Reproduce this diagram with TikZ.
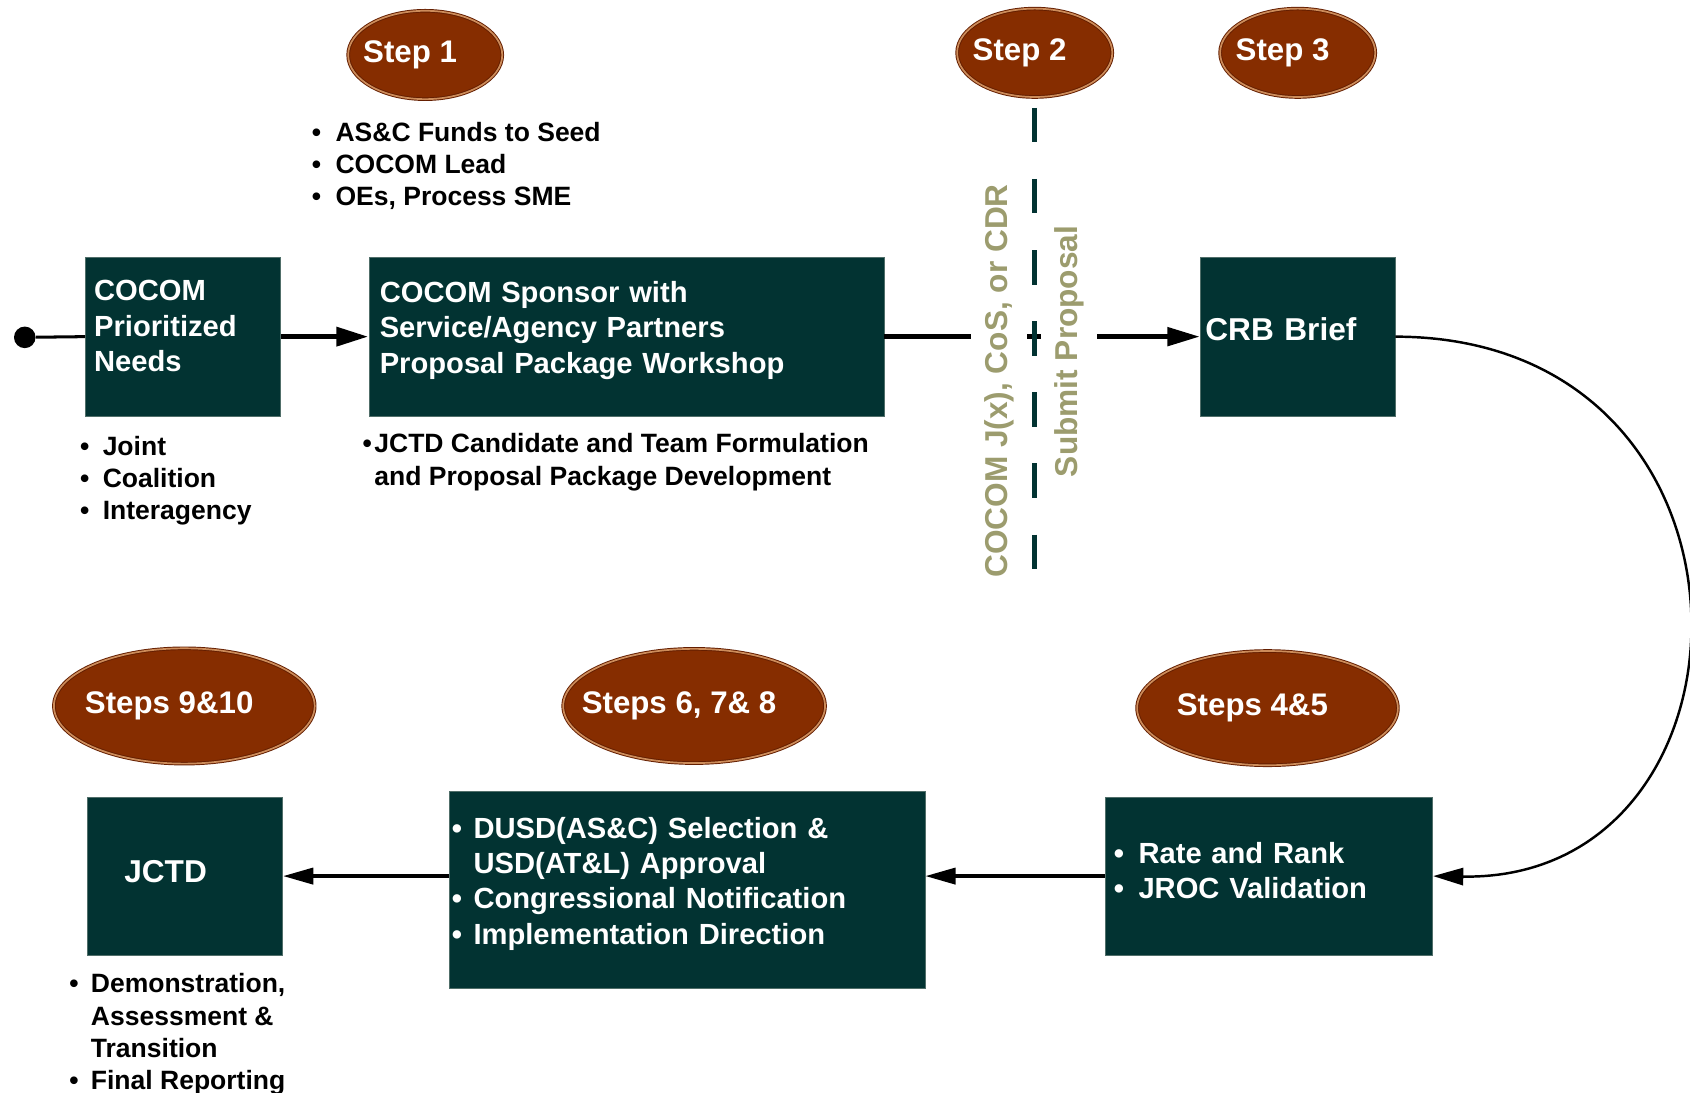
\documentclass[tikz,border=0pt]{standalone}
\usepackage{fontspec}
\setmainfont{Liberation Sans}
\usetikzlibrary{shapes}
\usetikzlibrary{positioning}
\usetikzlibrary{arrows.meta}
\definecolor{stepfill}{RGB}{134,45,0}
\definecolor{steprim}{RGB}{205,140,90}
\definecolor{stepedge}{RGB}{100,30,0}
\definecolor{boxfill}{RGB}{2,51,50}
\definecolor{boxedge}{RGB}{80,110,105}
\definecolor{olivegray}{RGB}{156,156,110}
\newcommand{\itm}[1][0.4cm]{\makebox[#1][l]{\textbullet}}
\tikzset{
    stepnode/.style = {ellipse, draw=stepedge, line width=0.5pt, double=steprim, double distance=0.9pt, fill=stepfill, inner sep=0pt, text=white, font=\fontsize{16.5}{20}\selectfont\bfseries, execute at begin node={\hspace*{-0.56cm}}},
    boxnode/.style = {rectangle, draw=boxedge, line width=0.4pt, fill=boxfill, inner sep=0pt, text=white, align=left, anchor=north west, font=\fontsize{15.4}{18.7}\selectfont\bfseries},
    bignode/.style = {boxnode, font=\fontsize{16.7}{20}\selectfont\bfseries},
    notenode/.style = {inner sep=0pt, align=left, anchor=north west, font=\fontsize{14}{17}\selectfont\bfseries},
    sidenode/.style = {rotate=90, fill=white, inner xsep=0pt, inner ysep=0.25cm, text=olivegray, font=\fontsize{16.7}{20}\selectfont\bfseries},
    edget/.style = {line width=1.6pt},
    edgek/.style = {-{Triangle[length=0.6cm,width=0.34cm]}, line width=3pt},
    edgem/.style = {-{Triangle[length=0.6cm,width=0.34cm]}, line width=2.3pt},
    edgeb/.style = {-{Triangle[length=0.56cm,width=0.3cm]}, line width=1.8pt},
    edgec/.style = {-{Triangle[length=0.56cm,width=0.32cm]}, line width=1.3pt},
    divide/.style = {draw=boxfill, line width=2.8pt, dash pattern=on 0.64cm off 0.68cm}
}
\begin{document}
\begin{tikzpicture}[x=0.02cm,y=-0.02cm]
\useasboundingbox (0,0) rectangle (1568,1014);
%
\node[stepnode, minimum width=2.86cm, minimum height=1.64cm] (s1) at (394.5,51) {Step 1};
\node[stepnode, minimum width=2.88cm, minimum height=1.64cm] (s2) at (960,49) {Step 2};
\node[stepnode, minimum width=2.88cm, minimum height=1.64cm] (s3) at (1204,49) {Step 3};
\node[stepnode, minimum width=4.84cm, minimum height=2.14cm] (s910) at (171,655) {Steps 9\&10};
\node[stepnode, minimum width=4.86cm, minimum height=2.12cm] (s678) at (644,655) {Steps 6, 7\& 8};
\node[stepnode, minimum width=4.84cm, minimum height=2.12cm] (s45) at (1176,657) {Steps 4\&5};
%
\node[boxnode, minimum width=3.62cm, minimum height=2.96cm, text width=3.3cm, text depth=48.8pt] (needs) at (79,238) {COCOM\\ Prioritized\\ Needs};
\node[boxnode, minimum width=9.56cm, minimum height=2.96cm, text width=9.16cm, text depth=47.4pt] (workshop) at (342,238) {COCOM Sponsor with\\ Service/Agency Partners\\ Proposal Package Workshop};
\node[bignode, minimum width=3.62cm, minimum height=2.96cm, text width=3.42cm, text depth=7.9pt] (crb) at (1113,238) {CRB Brief};
\node[boxnode, minimum width=6.08cm, minimum height=2.94cm, text width=5.76cm, text depth=24.4pt] (rank) at (1025,739) {\itm[0.46cm]Rate and Rank\\ \itm[0.46cm]JROC Validation};
\node[boxnode, minimum width=8.82cm, minimum height=3.66cm, text width=8.74cm, text depth=66.1pt] (approval) at (417,734) {\itm DUSD(AS\&C) Selection \&\\ \hspace*{0.4cm}USD(AT\&L) Approval\\ \itm Congressional Notification\\ \itm Implementation Direction};
\node[bignode, minimum width=3.62cm, minimum height=2.94cm, text width=2.26cm, text depth=4.5pt] (jctd) at (81,739) {JCTD};
%
\node[circle, fill=black, inner sep=0pt, minimum size=0.4cm] (start) at (23,313) {};
%
\draw[edget] (start) -- (needs.west);
\draw[edgek] (needs.east) -- (workshop.west);
\draw[edgem] (workshop.east) -- (crb.west);
\draw[edgec] (crb.east) .. controls (1655,313) and (1645,818) .. (rank.east);
\draw[edgeb] (rank.west) -- (approval.east |- rank.west);
\draw[edgeb] (approval.west |- jctd.east) -- (jctd.east);
%
\node[sidenode] (cdr) at (927,353.5) {COCOM J(x), CoS, or CDR};
\node[sidenode] (submit) at (992,326) {Submit Proposal};
\coordinate (dtop) at (960,100);
\coordinate (dbot) at (960,530);
\draw[divide] (dtop) -- (dbot);
%
\node[notenode] (s1list) at (289,113) {\itm[0.44cm]AS\&C Funds to Seed\\ \itm[0.44cm]COCOM Lead\\ \itm[0.44cm]OEs, Process SME};
\node[notenode] (needslist) at (74,404) {\itm[0.42cm]Joint\\ \itm[0.42cm]Coalition\\ \itm[0.42cm]Interagency};
\node[notenode] (wslist) at (336,402) {\itm[0.22cm]JCTD Candidate and Team Formulation\\ \hspace*{0.22cm}and Proposal Package Development};
\node[notenode] (jctdlist) at (64,903) {\itm Demonstration,\\ \hspace*{0.4cm}Assessment \&\\ \hspace*{0.4cm}Transition\\ \itm Final Reporting};

\end{tikzpicture}
\end{document}
